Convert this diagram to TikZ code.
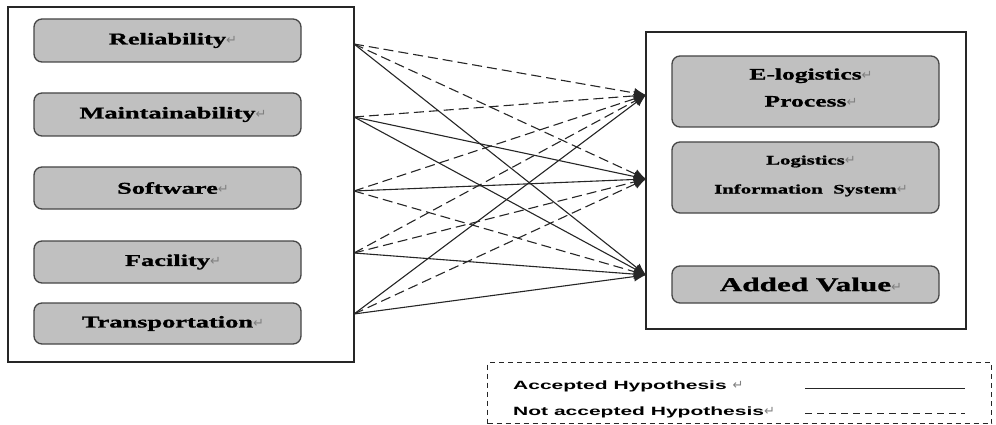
\documentclass[tikz,border=0pt]{standalone}
\usepackage{fontspec}
\usetikzlibrary{arrows.meta, positioning}

\newfontfamily\boxfont[FakeStretch=1.6, FakeBold=1.2]{Liberation Serif}
\newfontfamily\keyfont[FakeStretch=1.75]{Liberation Sans}
\newfontfamily\markfont{DejaVu Sans}
\newcommand{\retmark}{{\markfont\mdseries\fontsize{13}{13}\selectfont\color{gray}\char"21B5}}
\definecolor{boxgray}{RGB}{192,192,192}
\definecolor{edgegray}{RGB}{70,70,70}

\begin{document}
\begin{tikzpicture}[x=1pt, y=-1pt, >={Latex[length=12pt,width=10pt]}]
				\tikzstyle{frame} = [draw=black!85, line width=1.2pt, inner sep=0pt]
				\tikzstyle{factor} = [draw=edgegray, fill=boxgray, line width=1.3pt, rounded corners=8pt, minimum width=267pt, align=center, font=\boxfont\bfseries\fontsize{16.5}{18}\selectfont]
				\tikzstyle{outcome} = [factor, font=\boxfont\bfseries\fontsize{16}{27}\selectfont]
				\tikzstyle{acc} = [->, black!85, line width=1.1pt]
				\tikzstyle{rej} = [->, black!85, line width=1.1pt, dash pattern=on 10pt off 5pt]
				\tikzstyle{keytext} = [anchor=base west, inner sep=0pt, font=\keyfont\bfseries\fontsize{12}{14}\selectfont]
				
				\useasboundingbox (0,0) rectangle (996,425);
				
				% frames
				\node[frame, minimum width=346pt, minimum height=355pt] at (181,184.5) (srcbox) {};
				\node[frame, minimum width=320pt, minimum height=297pt] at (806,180.5) (dstbox) {};
				
				% factors
				\node[factor, minimum height=43pt] at (167.5,40.5) (rel) {Reliability\rlap{\retmark}};
				\node[factor, minimum height=43pt] at (167.5,114.5) (main) {Maintainability\rlap{\retmark}};
				\node[factor, minimum height=42pt] at (167.5,188) (soft) {Software\rlap{\retmark}};
				\node[factor, minimum height=42pt] at (167.5,262) (fac) {Facility\rlap{\retmark}};
				\node[factor, minimum height=41pt] at (167.5,323.5) (trans) {Transportation\rlap{\retmark}};
				
				% outcomes
				\node[outcome, minimum height=71pt, text depth=8pt] at (805.5,91.5) (elog) {E-logistics\rlap{\retmark}\\Process\rlap{\retmark}};
				\node[outcome, minimum height=71pt, text depth=6pt, font=\boxfont\bfseries\fontsize{13}{29}\selectfont] at (805.5,177.5) (lis) {Logistics\rlap{\retmark}\\Information\ \ System\rlap{\retmark}};
				\node[outcome, minimum height=37pt, font=\boxfont\bfseries\fontsize{19.5}{22}\selectfont] at (805.5,284.5) (added) {Added Value\rlap{\retmark}};
				
				% connector ends on the frames
				\coordinate (rel-out) at (354,44);
				\coordinate (main-out) at (354,117);
				\coordinate (soft-out) at (354,191);
				\coordinate (fac-out) at (354,253);
				\coordinate (trans-out) at (354,314);
				\coordinate (elog-in) at (646,95);
				\coordinate (lis-in) at (646,179);
				\coordinate (added-in) at (646,275);
				
				\path[acc]
				(rel-out)	edge	(added-in)
				(main-out)	edge	(lis-in)
				(main-out)	edge	(added-in)
				(soft-out)	edge	(lis-in)
				(fac-out)	edge	(added-in)
				(trans-out)	edge	(elog-in)
				(trans-out)	edge	(added-in);
				
				\path[rej]
				(rel-out)	edge	(elog-in)
				(rel-out)	edge	(lis-in)
				(main-out)	edge	(elog-in)
				(soft-out)	edge	(elog-in)
				(soft-out)	edge	(added-in)
				(fac-out)	edge	(elog-in)
				(fac-out)	edge	(lis-in)
				(trans-out)	edge	(lis-in);
				
				% legend
				\node[draw=black!85, line width=1.1pt, dash pattern=on 5pt off 4pt, minimum width=504pt, minimum height=61pt] at (739.5,393) (legend) {};
				\node[keytext] at (513,389) (acc-text) {Accepted Hypothesis \retmark};
				\node[keytext] at (513,415) (rej-text) {Not accepted Hypothesis\retmark};
				\coordinate (acc-a) at (805,388);
				\coordinate (acc-b) at (965,388);
				\coordinate (rej-a) at (805,413);
				\coordinate (rej-b) at (965,413);
				\draw[black!85, line width=1pt] (acc-a) -- (acc-b);
				\draw[black!85, line width=1pt, dash pattern=on 7pt off 5pt] (rej-a) -- (rej-b);
\end{tikzpicture}
\end{document}
